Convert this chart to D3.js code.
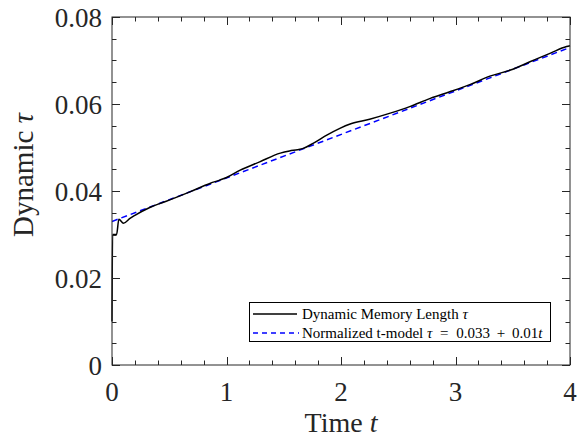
<!DOCTYPE html>
<html><head><meta charset="utf-8">
<script src="https://cdn.jsdelivr.net/npm/d3@7"></script>
<style>
body{margin:0;background:#fff;}
svg{display:block;font-family:"Liberation Serif","DejaVu Serif",serif;}
</style></head>
<body>
<svg id="c" width="579" height="448"></svg>
<script>
// ---- data ----
const timeT = [0, 0.005, 0.04, 0.06, 0.1, 0.157, 0.2, 0.33, 0.5, 0.68, 0.86, 0.94, 1.0, 1.12, 1.29, 1.47, 1.55, 1.62, 1.67, 1.76, 1.88, 1.99, 2.08, 2.25, 2.43, 2.6, 2.78, 2.95, 3.13, 3.3, 3.48, 3.65, 3.83, 3.97, 4.0];
const tauDyn = [0.010, 0.030, 0.030, 0.0335, 0.0326, 0.0337, 0.0344, 0.0362, 0.0379, 0.0398, 0.0418, 0.0425, 0.0431, 0.0448, 0.0467, 0.0487, 0.0492, 0.0495, 0.0498, 0.0510, 0.0529, 0.0544, 0.0554, 0.0565, 0.0579, 0.0594, 0.0613, 0.0628, 0.0645, 0.0664, 0.0678, 0.0697, 0.0717, 0.0732, 0.0734];
const modelT = [0, 4];
const modelTau = [0.033, 0.073];
const xTicks = [0, 1, 2, 3, 4];
const yTicks = [0, 0.02, 0.04, 0.06, 0.08];
const yTickLabels = ["0", "0.02", "0.04", "0.06", "0.08"];
const xMinor = d3.range(0, 4.0001, 0.2);
const yMinor = d3.range(0, 0.08001, 0.005);

// ---- layout ----
const L = 112, R = 570, T = 17, B = 365;
const svg = d3.select("#c");
const x = d3.scaleLinear().domain([0, 4]).range([L, R]);
const y = d3.scaleLinear().domain([0, 0.08]).range([B, T]);
const axCol = "#262626";

svg.append("clipPath").attr("id","cp").append("rect")
  .attr("x", L).attr("y", T).attr("width", R-L).attr("height", B-T);

const line = d3.line().x(d => x(d[0])).y(d => y(d[1]));
svg.append("path")
  .datum(modelT.map((t,i)=>[t, modelTau[i]]))
  .attr("d", line).attr("fill","none").attr("stroke","#0000ff")
  .attr("stroke-width",1.5).attr("stroke-dasharray","6,4")
  .attr("clip-path","url(#cp)");
svg.append("path")
  .datum(timeT.map((t,i)=>[t, tauDyn[i]]))
  .attr("d", d3.line().x(d=>x(d[0])).y(d=>y(d[1])).curve(d3.curveMonotoneX))
  .attr("fill","none").attr("stroke","#000")
  .attr("stroke-width",1.5);

// box
svg.append("rect").attr("x",L).attr("y",T).attr("width",R-L).attr("height",B-T)
  .attr("fill","none").attr("stroke",axCol).attr("stroke-width",1);

// ticks (inward, all four sides)
const tg = svg.append("g").attr("stroke",axCol).attr("stroke-width",1);
const isMajorX = v => xTicks.some(m => Math.abs(m - v) < 1e-9);
const isMajorY = v => yTicks.some(m => Math.abs(m - v) < 1e-9);
xMinor.forEach(v => {
  const len = isMajorX(v) ? 8 : 4.5;
  const px = Math.round(x(v)) + 0.5;
  tg.append("line").attr("x1",px).attr("x2",px).attr("y1",B).attr("y2",B-len);
  tg.append("line").attr("x1",px).attr("x2",px).attr("y1",T).attr("y2",T+len);
});
yMinor.forEach(v => {
  const len = isMajorY(v) ? 8 : 4.5;
  const py = Math.round(y(v)) + 0.5;
  tg.append("line").attr("y1",py).attr("y2",py).attr("x1",L).attr("x2",L+len);
  tg.append("line").attr("y1",py).attr("y2",py).attr("x1",R).attr("x2",R-len);
});

// tick labels
svg.append("g").selectAll("text").data(xTicks).join("text")
  .attr("x", d => x(d)).attr("y", 401)
  .attr("text-anchor","middle").attr("font-size",27).attr("fill",axCol)
  .text(d => d);
svg.append("g").selectAll("text").data(yTicks).join("text")
  .attr("x", 102).attr("y", d => y(d) + 9.5)
  .attr("text-anchor","end").attr("font-size",27).attr("fill",axCol)
  .text((d,i) => yTickLabels[i]);

// axis titles
const xt = svg.append("text").attr("x", 341).attr("y", 432)
  .attr("text-anchor","middle").attr("font-size",28).attr("fill",axCol);
xt.append("tspan").text("Time ");
xt.append("tspan").attr("font-style","italic").text("t");

const yt = svg.append("text").attr("transform","translate(33,175) rotate(-90)")
  .attr("text-anchor","middle").attr("font-size",29).attr("fill",axCol);
yt.append("tspan").text("Dynamic ");
yt.append("tspan").attr("font-style","italic").text("τ");

// legend
const lg = svg.append("g");
lg.append("rect").attr("x",249.5).attr("y",302.5).attr("width",301).attr("height",39)
  .attr("fill","#fff").attr("stroke","#000").attr("stroke-width",1);
lg.append("line").attr("x1",253).attr("x2",297).attr("y1",314).attr("y2",314)
  .attr("stroke","#000").attr("stroke-width",1.5);
lg.append("line").attr("x1",253).attr("x2",299).attr("y1",333).attr("y2",333)
  .attr("stroke","#0000ff").attr("stroke-width",1.5).attr("stroke-dasharray","5,4");
const l1 = lg.append("text").attr("x",302).attr("y",318.5).attr("font-size",15).attr("fill","#000");
l1.append("tspan").text("Dynamic Memory Length ");
l1.append("tspan").attr("font-style","italic").text("τ");
const l2 = lg.append("text").attr("x",302).attr("y",337.5).attr("font-size",15).attr("fill","#000");
l2.append("tspan").text("Normalized t-model ");
l2.append("tspan").attr("font-style","italic").text("τ");
l2.append("tspan").attr("dx",4).text(" =");
l2.append("tspan").attr("dx",4).text(" 0.033");
l2.append("tspan").attr("dx",3).text(" +");
l2.append("tspan").attr("dx",3).text(" 0.01");
l2.append("tspan").attr("font-style","italic").text("t");
</script>
</body></html>
